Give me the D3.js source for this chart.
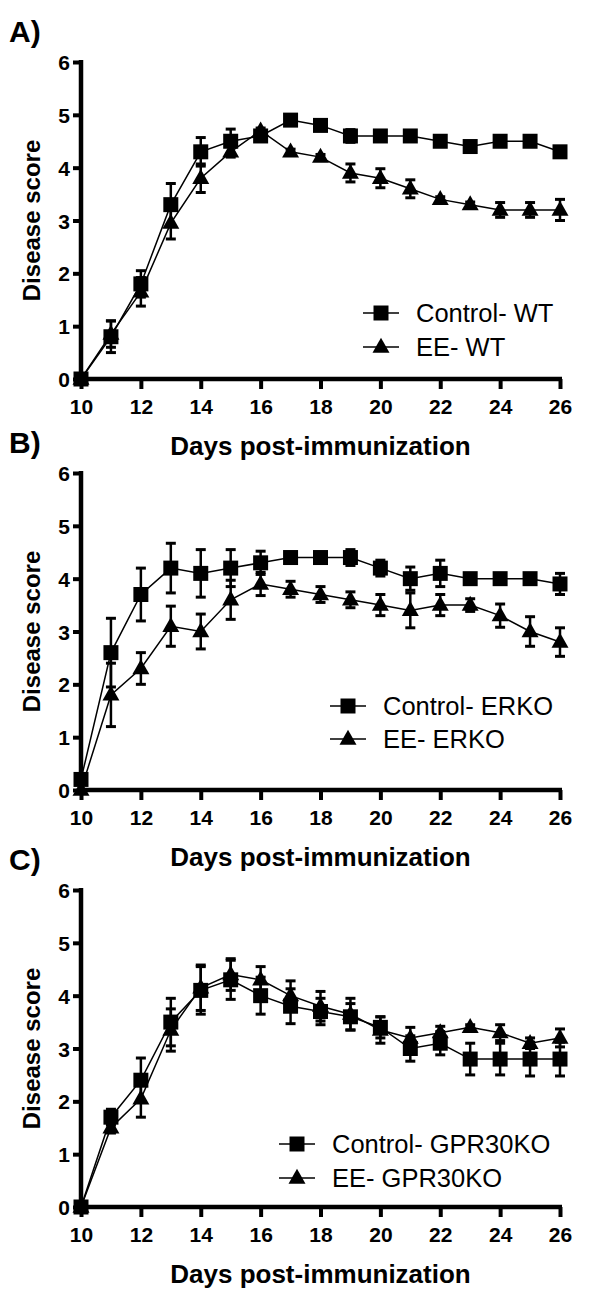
<!DOCTYPE html>
<html>
<head>
<meta charset="utf-8">
<script src="https://cdn.jsdelivr.net/npm/d3@7/dist/d3.min.js"></script>
<style>
  html, body { margin: 0; padding: 0; background: #fff; }
  svg { display: block; }
</style>
</head>
<body>
<svg id="chart" width="600" height="1306"></svg>
<script>
// ---------- data ----------
const days = [10, 11, 12, 13, 14, 15, 16, 17, 18, 19, 20, 21, 22, 23, 24, 25, 26];
const xTickValues = [10, 12, 14, 16, 18, 20, 22, 24, 26];
const yTickValues = [0, 1, 2, 3, 4, 5, 6];
const panelLabels = ["A)", "B)", "C)"];
const xAxisTitle = "Days post-immunization";
const yAxisTitle = "Disease score";

// Panel A
const legendA = ["Control- WT", "EE- WT"];
const ctrlWT    = [0, 0.8, 1.8, 3.3, 4.3, 4.5, 4.6, 4.9, 4.8, 4.6, 4.6, 4.6, 4.5, 4.4, 4.5, 4.5, 4.3];
const ctrlWTErr = [0, 0.3, 0.25, 0.4, 0.27, 0.23, 0.08, 0.03, 0.05, 0.12, 0.05, 0.05, 0.08, 0.05, 0.05, 0.05, 0.05];
const eeWT      = [0, 0.85, 1.65, 2.95, 3.8, 4.3, 4.7, 4.3, 4.2, 3.9, 3.8, 3.6, 3.4, 3.3, 3.2, 3.2, 3.2];
const eeWTErr   = [0, 0.25, 0.27, 0.3, 0.27, 0.1, 0.05, 0.05, 0.05, 0.17, 0.18, 0.17, 0.05, 0.05, 0.14, 0.14, 0.2];

// Panel B
const legendB = ["Control- ERKO", "EE- ERKO"];
const ctrlERKO    = [0.2, 2.6, 3.7, 4.2, 4.1, 4.2, 4.3, 4.4, 4.4, 4.4, 4.2, 4.0, 4.1, 4.0, 4.0, 4.0, 3.9];
const ctrlERKOErr = [0.05, 0.65, 0.5, 0.47, 0.45, 0.35, 0.22, 0.1, 0.1, 0.15, 0.15, 0.22, 0.25, 0.05, 0.05, 0.05, 0.2];
const eeERKO      = [0, 1.8, 2.3, 3.1, 3.0, 3.6, 3.9, 3.8, 3.7, 3.6, 3.5, 3.4, 3.5, 3.5, 3.3, 3.0, 2.8];
const eeERKOErr   = [0, 0.6, 0.3, 0.38, 0.33, 0.37, 0.22, 0.15, 0.15, 0.15, 0.2, 0.33, 0.2, 0.12, 0.22, 0.28, 0.27];

// Panel C
const legendC = ["Control- GPR30KO", "EE- GPR30KO"];
const ctrlGPR    = [0, 1.7, 2.4, 3.5, 4.1, 4.3, 4.0, 3.8, 3.7, 3.6, 3.4, 3.0, 3.1, 2.8, 2.8, 2.8, 2.8];
const ctrlGPRErr = [0, 0.15, 0.42, 0.45, 0.45, 0.37, 0.35, 0.33, 0.25, 0.25, 0.2, 0.24, 0.22, 0.3, 0.3, 0.32, 0.32];
const eeGPR      = [0, 1.5, 2.05, 3.35, 4.15, 4.4, 4.3, 4.0, 3.8, 3.65, 3.35, 3.2, 3.3, 3.4, 3.3, 3.1, 3.2];
const eeGPRErr   = [0, 0.1, 0.35, 0.4, 0.43, 0.3, 0.25, 0.28, 0.28, 0.3, 0.25, 0.2, 0.12, 0.05, 0.15, 0.1, 0.17];

// ---------- layout ----------
const FONT = "'Liberation Sans', Arial, Helvetica, sans-serif";
const panels = [
  { label: panelLabels[0], top: 62,  legend: legendA, ctrl: ctrlWT,   ctrlErr: ctrlWTErr,   ee: eeWT,   eeErr: eeWTErr,   lgLine: 363, lgRows: [313, 347] },
  { label: panelLabels[1], top: 473, legend: legendB, ctrl: ctrlERKO, ctrlErr: ctrlERKOErr, ee: eeERKO, eeErr: eeERKOErr, lgLine: 330, lgRows: [706, 739] },
  { label: panelLabels[2], top: 890, legend: legendC, ctrl: ctrlGPR,  ctrlErr: ctrlGPRErr,  ee: eeGPR,  eeErr: eeGPRErr,  lgLine: 279, lgRows: [1144, 1178] }
];
const plotLeft = 81, plotRight = 560, plotH = 317;

const svg = d3.select("#chart");
svg.append("rect").attr("width", 600).attr("height", 1306).attr("fill", "#fff");

const x = d3.scaleLinear().domain([10, 26]).range([plotLeft, plotRight]);

function squarePath(s) { const h = s / 2; return `M${-h},${-h}H${h}V${h}H${-h}Z`; }
function trianglePath(w, h) { return `M0,${-h * 0.62}L${w / 2},${h * 0.38}L${-w / 2},${h * 0.38}Z`; }
const SQ = squarePath(15);
const TRI = trianglePath(17, 15);

panels.forEach(p => {
  const y = d3.scaleLinear().domain([0, 6]).range([p.top + plotH, p.top]);
  const g = svg.append("g");

  // panel label
  g.append("text")
    .attr("x", 9).attr("y", p.top - 20)
    .attr("font-family", FONT).attr("font-weight", "bold").attr("font-size", 30)
    .text(p.label);

  // series drawing
  const series = [
    { vals: p.ee, err: p.eeErr, shape: TRI },
    { vals: p.ctrl, err: p.ctrlErr, shape: SQ }
  ];
  const line = d3.line().x((d, i) => x(days[i])).y(d => y(d));

  series.forEach(s => {
    // error bars
    const eb = g.append("g").attr("stroke", "#000");
    days.forEach((dd, i) => {
      const e = s.err[i];
      if (e <= 0) return;
      const cx = x(dd), y1 = y(s.vals[i] + e), y2 = y(Math.max(0, s.vals[i] - e));
      eb.append("line").attr("x1", cx).attr("x2", cx).attr("y1", y1).attr("y2", y2).attr("stroke-width", 2.5);
      eb.append("line").attr("x1", cx - 5).attr("x2", cx + 5).attr("y1", y1).attr("y2", y1).attr("stroke-width", 3);
      eb.append("line").attr("x1", cx - 5).attr("x2", cx + 5).attr("y1", y2).attr("y2", y2).attr("stroke-width", 3);
    });
    g.append("path").datum(s.vals).attr("d", line)
      .attr("fill", "none").attr("stroke", "#000").attr("stroke-width", 1.5);
  });
  series.forEach(s => {
    g.append("g").selectAll("path").data(s.vals).join("path")
      .attr("d", s.shape)
      .attr("transform", (d, i) => `translate(${x(days[i])},${y(d)})`)
      .attr("fill", "#000");
  });

  // axes
  const xAxis = d3.axisBottom(x).tickValues(xTickValues).tickFormat(d3.format("d"))
    .tickSize(10).tickPadding(10).tickSizeOuter(0);
  const xg = g.append("g").attr("transform", `translate(0,${p.top + plotH})`).call(xAxis);
  const yAxis = d3.axisLeft(y).tickValues(yTickValues).tickFormat(d3.format("d"))
    .tickSize(8).tickPadding(3).tickSizeOuter(0);
  const yg = g.append("g").attr("transform", `translate(${plotLeft},0)`).call(yAxis);
  [xg, yg].forEach(ax => {
    ax.select(".domain").attr("stroke", "#000").attr("stroke-width", 4.5);
    ax.selectAll(".tick line").attr("stroke", "#000").attr("stroke-width", 4);
    ax.selectAll(".tick text").attr("font-family", FONT).attr("font-weight", "bold")
      .attr("font-size", 21).attr("fill", "#000");
  });
  xg.select(".domain").attr("d", `M${plotLeft - 2},0H${plotRight + 2}`);
  yg.select(".domain").attr("d", `M0,${p.top + plotH + 2}V${p.top - 2}`);
  yg.selectAll(".tick text").attr("dy", "0.36em");

  // axis titles
  g.append("text")
    .attr("x", (plotLeft + plotRight) / 2).attr("y", p.top + plotH + 76)
    .attr("text-anchor", "middle")
    .attr("font-family", FONT).attr("font-weight", "bold").attr("font-size", 26)
    .text(xAxisTitle);
  g.append("text")
    .attr("transform", `translate(40,${p.top + plotH / 2}) rotate(-90)`)
    .attr("text-anchor", "middle")
    .attr("font-family", FONT).attr("font-weight", "bold").attr("font-size", 24)
    .text(yAxisTitle);

  // legend
  const shapes = [SQ, TRI];
  p.legend.forEach((name, i) => {
    const ly = p.lgRows[i];
    g.append("line").attr("x1", p.lgLine).attr("x2", p.lgLine + 36).attr("y1", ly).attr("y2", ly)
      .attr("stroke", "#000").attr("stroke-width", 1.5);
    g.append("path").attr("d", shapes[i]).attr("transform", `translate(${p.lgLine + 18},${ly})`).attr("fill", "#000");
    g.append("text").attr("x", p.lgLine + 53).attr("y", ly).attr("dy", "0.36em")
      .attr("font-family", FONT).attr("font-size", 25.5).attr("fill", "#000")
      .text(name);
  });
});
</script>
</body>
</html>
